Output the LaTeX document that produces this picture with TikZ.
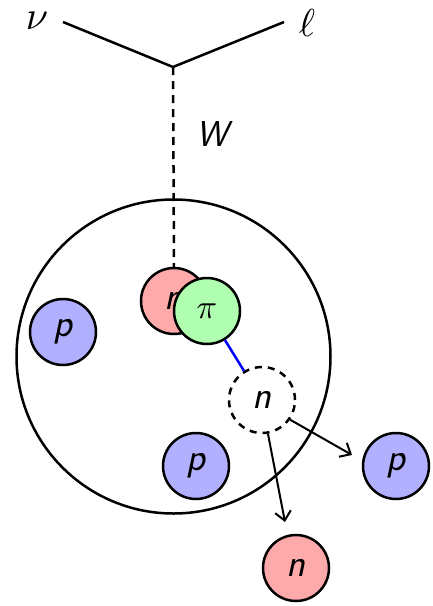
\documentclass[tikz,border=0pt]{standalone}
\usepackage{fontspec}
\usepackage{graphicx}
\usetikzlibrary{arrows.meta}
\definecolor{protonblue}{RGB}{176,176,255}
\definecolor{neutronred}{RGB}{255,170,170}
\definecolor{piongreen}{RGB}{176,255,176}
\newcommand{\bigmath}[2]{\scalebox{#1}{$#2$}}
\tikzset{
  particle/.style={circle, draw=black, line width=2.5pt, minimum size=66pt, inner sep=0pt,
    font=\fontsize{39}{42}\selectfont\sffamily\itshape},
  proton/.style={particle, fill=protonblue},
  neutron/.style={particle, fill=neutronred},
  pion/.style={particle, fill=piongreen},
  ghost/.style={particle, dashed, dash pattern=on 7pt off 6pt},
  leg/.style={line width=2.5pt},
  outgoing/.style={line width=2pt, -{Straight Barb[length=9pt,width=16pt,line width=2pt]}}
}
\begin{document}
\begin{tikzpicture}[x=1pt,y=-1pt]
  \useasboundingbox (0,0) rectangle (432,606);
  % lepton vertex
  \coordinate (vtx) at (173,67);
  \coordinate (nuend) at (63,22);
  \coordinate (lend) at (284,22);
  \node[inner sep=0pt] (nu) at (37,21) {\fontsize{10}{12}\selectfont\bigmath{4}{\nu}};
  \node[inner sep=0pt] (ell) at (307,23) {\fontsize{10}{12}\selectfont\bigmath{3.9}{\ell}};
  \draw[leg] (nuend) -- (vtx) -- (lend);
  % nucleus
  \node[circle, draw, line width=2.5pt, minimum size=314pt, inner sep=0pt] (nucleus) at (173.5,356.5) {};
  % spectator protons
  \node[proton] (p1) at (63,332) {p};
  \node[proton] (p2) at (196,466) {p};
  % struck neutron and produced pion
  \node[neutron] (nstruck) at (174,301) {n};
  \draw[leg, dashed, dash pattern=on 8pt off 6pt] (vtx) -- (nstruck.north);
  \node[font=\fontsize{36}{40}\selectfont\sffamily\itshape] (W) at (212,134) {W};
  \node[pion] (pi) at (207,311) {\fontsize{10}{12}\selectfont\bigmath{3.4}{\pi}};
  % absorbed pion -> intermediate neutron
  \node[ghost] (nmid) at (262,400) {n};
  \draw[line width=2.5pt, blue] (pi) -- (nmid);
  % final state nucleons
  \node[proton] (pout) at (396,466) {p};
  \node[neutron] (nout) at (296,568) {n};
  \draw[outgoing] (nmid.-35) -- (352,455) coordinate (pt);
  \draw[outgoing] (nmid.-80) -- (285,522) coordinate (nt);
\end{tikzpicture}
\end{document}
